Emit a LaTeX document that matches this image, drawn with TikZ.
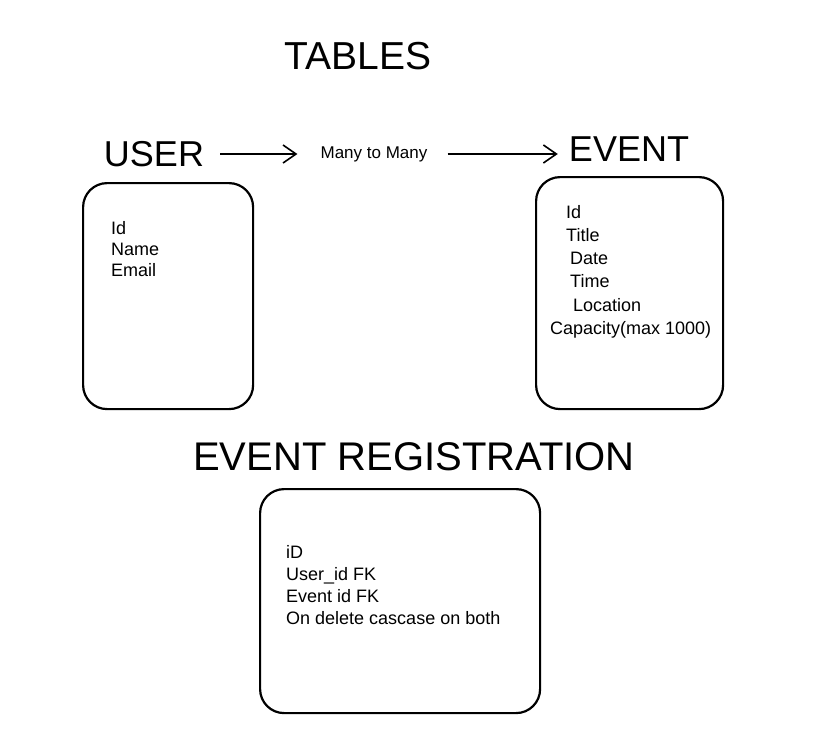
\documentclass[tikz,border=0pt]{standalone}
\usepackage{fontspec}
\setmainfont{Liberation Sans}
\usetikzlibrary{positioning,arrows.meta}

\begin{document}
\begin{tikzpicture}[
        x=1pt, y=-1pt,
        every node/.style={inner sep=0pt},
        heading/.style={font=\fontsize{36}{40}\selectfont},
        table/.style={rectangle, draw, line width=2.2pt, rounded corners=24pt, anchor=north west},
        field/.style={align=left, anchor=north west, font=\fontsize{18}{22}\selectfont},
        link/.style={line width=1.6pt, -{Straight Barb[length=13pt, width=18pt, line width=1.6pt]}}
    ]
    \useasboundingbox (0,0) rectangle (815,753);

    % Headings
    \node[heading, font=\fontsize{39}{44}\selectfont] (tables) at (358,56) {TABLES};
    \node[heading] (user) at (154,154) {USER};
    \node[heading] (event) at (629,149) {EVENT};
    \node[font=\fontsize{17}{20}\selectfont] (many) at (374,154) {Many to Many};
    \node[heading, font=\fontsize{40}{44}\selectfont] (reg) at (414,457) {EVENT REGISTRATION};

    % Tables
    \node[table, minimum width=170pt, minimum height=226pt] (userbox) at (82,182) {};
    \node[table, minimum width=187pt, minimum height=232pt] (eventbox) at (535,176) {};
    \node[table, minimum width=280pt, minimum height=224pt] (regbox) at (259,488) {};

    % Columns
    \node[field, font=\fontsize{18}{21}\selectfont] (userfields) at (111,221) {Id\\Name\\Email};
    \node[field, font=\fontsize{18}{23.2}\selectfont] (eventfields) at (550,205) {\hspace*{16pt}Id\\\hspace*{16pt}Title\\\hspace*{20pt}Date\\
        \hspace*{20pt}Time\\\hspace*{23pt}Location\\Capacity(max 1000)};
    \node[field] (regfields) at (286,545) {iD\\User\_id FK\\Event id FK\\On delete cascase on both};

    % Relation
    \draw[link, shorten <=16pt, shorten >=23pt] (user.east) -- (user.east -| many.west);
    \draw[link, shorten <=20pt, shorten >=11pt] (many.east) -- (many.east -| event.west);

\end{tikzpicture}
\end{document}
